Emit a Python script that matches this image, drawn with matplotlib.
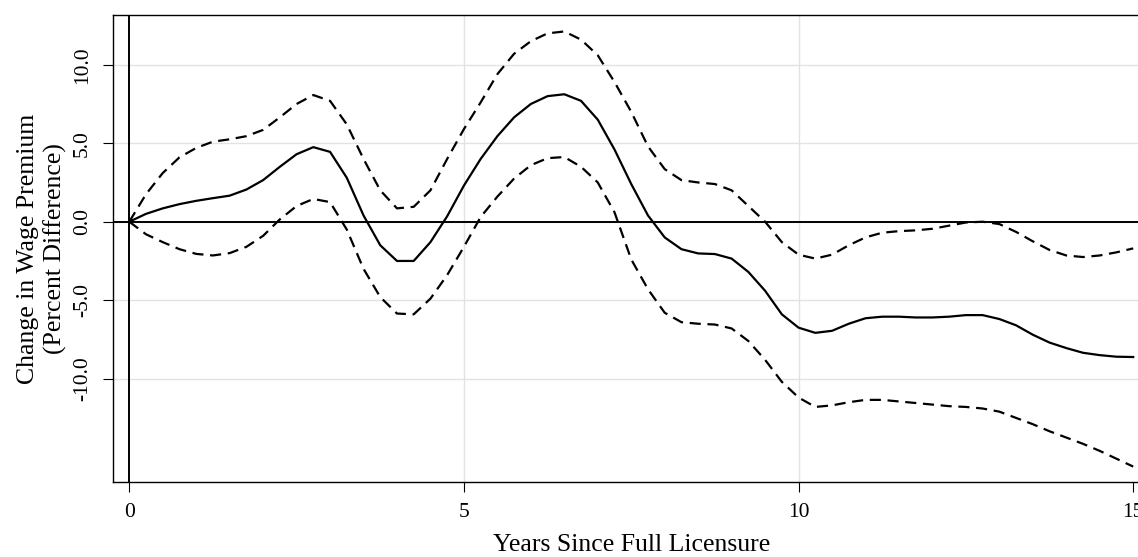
import matplotlib
matplotlib.use("Agg")
import matplotlib.pyplot as plt

# --- data ---
years = [0, 0.25, 0.5, 0.75, 1.0, 1.25, 1.5, 1.75, 2.0, 2.25, 2.5, 2.75,
         3.0, 3.25, 3.5, 3.75, 4.0, 4.25, 4.5, 4.75, 5.0, 5.25, 5.5, 5.75,
         6.0, 6.25, 6.5, 6.75, 7.0, 7.25, 7.5, 7.75, 8.0, 8.25, 8.5, 8.75,
         9.0, 9.25, 9.5, 9.75, 10.0, 10.25, 10.5, 10.75, 11.0, 11.25, 11.5,
         11.75, 12.0, 12.25, 12.5, 12.75, 13.0, 13.25, 13.5, 13.75, 14.0,
         14.25, 14.5, 14.75, 15.0]

estimate = [0, 0.5, 0.85, 1.12, 1.33, 1.5, 1.66, 2.05, 2.65, 3.5, 4.3, 4.75,
            4.45, 2.8, 0.4, -1.5, -2.5, -2.5, -1.3, 0.35, 2.3, 4.0, 5.45, 6.65,
            7.5, 8.0, 8.12, 7.7, 6.5, 4.6, 2.4, 0.4, -1.0, -1.75, -2.02, -2.06,
            -2.35, -3.2, -4.4, -5.9, -6.75, -7.08, -6.95, -6.5, -6.15, -6.05, -6.05,
            -6.1, -6.1, -6.05, -5.95, -5.95, -6.2, -6.6, -7.2, -7.7, -8.05,
            -8.35, -8.5, -8.6, -8.62]

upper = [0, 1.75, 3.1, 4.1, 4.7, 5.1, 5.25, 5.45, 5.85, 6.65, 7.5, 8.07,
         7.7, 6.2, 4.0, 2.0, 0.85, 0.95, 2.0, 4.0, 5.9, 7.6, 9.4, 10.7,
         11.5, 12.0, 12.12, 11.6, 10.6, 8.9, 7.0, 4.8, 3.35, 2.65, 2.5, 2.4,
         2.0, 1.0, 0.0, -1.3, -2.1, -2.35, -2.1, -1.5, -1.0, -0.7, -0.6,
         -0.55, -0.45, -0.25, -0.05, 0.0, -0.15, -0.65, -1.25, -1.8, -2.15,
         -2.25, -2.15, -1.95, -1.7]

lower = [0, -0.8, -1.3, -1.75, -2.05, -2.15, -2.0, -1.6, -0.9, 0.15, 1.0, 1.45,
         1.25, -0.5, -3.0, -4.8, -5.85, -5.9, -4.9, -3.4, -1.6, 0.3, 1.6, 2.75,
         3.6, 4.05, 4.12, 3.5, 2.5, 0.6, -2.4, -4.3, -5.8, -6.4, -6.5, -6.55,
         -6.8, -7.6, -8.8, -10.2, -11.2, -11.8, -11.7, -11.5, -11.35, -11.35, -11.45,
         -11.55, -11.65, -11.75, -11.8, -11.9, -12.1, -12.5, -12.9, -13.35, -13.75,
         -14.15, -14.6, -15.1, -15.6]

y_ticks = [10, 5, 0, -5, -10]
y_tick_labels = ["10.0", "5.0", "0.0", "-5.0", "-10.0"]
x_ticks = [0, 5, 10, 15]

plt.rcParams['font.family'] = ['Liberation Serif', 'DejaVu Serif']

fig = plt.figure(figsize=(11.38, 5.57), dpi=100)
ax = fig.add_axes([0.099, 0.1347, 0.9115, 0.8384])

# grid and reference lines
for yv in y_ticks:
    ax.axhline(yv, color='#e3e3e3', lw=1.0, zorder=0)
for xv in x_ticks[1:3]:
    ax.axvline(xv, color='#e3e3e3', lw=1.0, zorder=0)
ax.axhline(0, color='black', lw=1.4, zorder=1)
ax.axvline(0, color='black', lw=1.4, zorder=1)

# curves
style = dict(color='black', lw=1.6, solid_joinstyle='round', dash_joinstyle='round')
ax.plot(years, upper, dashes=(5, 3), zorder=2, **style)
ax.plot(years, lower, dashes=(5, 3), zorder=2, **style)
ax.plot(years, estimate, zorder=3, **style)

ax.set_xlim(-0.248, 15.25)
ax.set_ylim(-16.58, 13.17)

ax.set_xticks(x_ticks)
ax.set_xticklabels([str(v) for v in x_ticks])
ax.set_yticks(y_ticks)
ax.set_yticklabels(y_tick_labels, rotation=90, va='center')
ax.tick_params(direction='out', length=7, width=0.8, labelsize=15.5, pad=8)

for sp in ax.spines.values():
    sp.set_linewidth(1.0)

ax.set_xlabel("Years Since Full Licensure", fontsize=18.5, labelpad=9)
ax.set_ylabel("Change in Wage Premium\n(Percent Difference)", fontsize=18.5,
              labelpad=4, linespacing=1.25)

plt.savefig('out.png', dpi=100)
